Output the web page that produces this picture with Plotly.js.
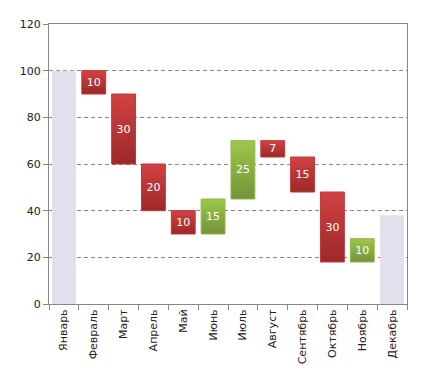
<!DOCTYPE html>
<html>
<head>
<meta charset="utf-8">
<script src="https://cdn.plot.ly/plotly-3.0.1.min.js"></script>
<style>html,body{margin:0;padding:0;background:#fff;}#chart{width:430px;height:384px;}</style>
</head>
<body>
<div id="chart"></div>
<script>
const months = ["Январь","Февраль","Март","Апрель","Май","Июнь","Июль","Август","Сентябрь","Октябрь","Ноябрь","Декабрь"];
const values = [100, -10, -30, -20, -10, 15, 25, -7, -15, -30, 10, 38];
const measures = ["absolute","relative","relative","relative","relative","relative","relative","relative","relative","relative","relative","absolute"];
const labels = ["", "10", "30", "20", "10", "15", "25", "7", "15", "30", "10", ""];

const trace = {
  type: "waterfall",
  x: months,
  y: values,
  measure: measures,
  text: labels,
  textinfo: "text",
  textposition: "inside",
  insidetextanchor: "middle",
  textangle: 0,
  constraintext: "none",
  textfont: {family: "DejaVu Sans, Verdana, sans-serif", size: 11, color: "#ffffff"},
  connector: {visible: false},
  decreasing: {marker: {color: "#b83232", line: {color: "#c0393b", width: 1}}},
  increasing: {marker: {color: "#88ad40", line: {color: "#93b74a", width: 1}}},
  totals: {marker: {color: "#e4dfec", line: {color: "#e4dfec", width: 0}}},
  hoverinfo: "none",
  showlegend: false
};

const layout = {
  width: 430, height: 384,
  margin: {l: 49, r: 23, t: 24, b: 80},
  paper_bgcolor: "#ffffff",
  plot_bgcolor: "#ffffff",
  bargap: 0.15,
  font: {family: "DejaVu Sans, Verdana, sans-serif", size: 11, color: "#222222"},
  xaxis: {
    type: "category",
    tickangle: -90,
    ticks: "outside",
    tickson: "boundaries",
    ticklen: 5,
    tickcolor: "#888888",
    showline: true, mirror: true,
    linecolor: "#888888", linewidth: 1,
    showgrid: false,
    tickfont: {size: 11, color: "#222222"}
  },
  yaxis: {
    range: [0, 120],
    dtick: 20,
    ticks: "outside",
    ticklen: 5,
    tickcolor: "#888888",
    showline: true, mirror: true,
    linecolor: "#888888", linewidth: 1,
    showgrid: true,
    gridcolor: "#888888",
    griddash: "4px,3px",
    gridwidth: 1,
    zeroline: false,
    tickfont: {size: 11, color: "#222222"}
  }
};

Plotly.newPlot("chart", [trace], layout, {staticPlot: true}).then(function(gd){
  const svg = gd.querySelector("svg.main-svg");
  const ns = "http://www.w3.org/2000/svg";
  let defs = svg.querySelector("defs");
  if (!defs) { defs = document.createElementNS(ns, "defs"); svg.insertBefore(defs, svg.firstChild); }
  function grad(id, top, bottom) {
    const g = document.createElementNS(ns, "linearGradient");
    g.setAttribute("id", id);
    g.setAttribute("x1", "0"); g.setAttribute("y1", "0");
    g.setAttribute("x2", "0"); g.setAttribute("y2", "1");
    const s1 = document.createElementNS(ns, "stop");
    s1.setAttribute("offset", "0"); s1.setAttribute("stop-color", top);
    const s2 = document.createElementNS(ns, "stop");
    s2.setAttribute("offset", "1"); s2.setAttribute("stop-color", bottom);
    g.appendChild(s1); g.appendChild(s2);
    defs.appendChild(g);
  }
  grad("gRed", "#d24242", "#9c2828");
  grad("gGreen", "#9dc84a", "#739338");
  const pts = gd.querySelectorAll(".cartesianlayer .point");
  pts.forEach(function(p, i){
    const path = p.querySelector("path");
    if (!path) return;
    if (measures[i] === "relative") {
      path.style.fill = values[i] < 0 ? "url(#gRed)" : "url(#gGreen)";
    }
  });
});
</script>
</body>
</html>
